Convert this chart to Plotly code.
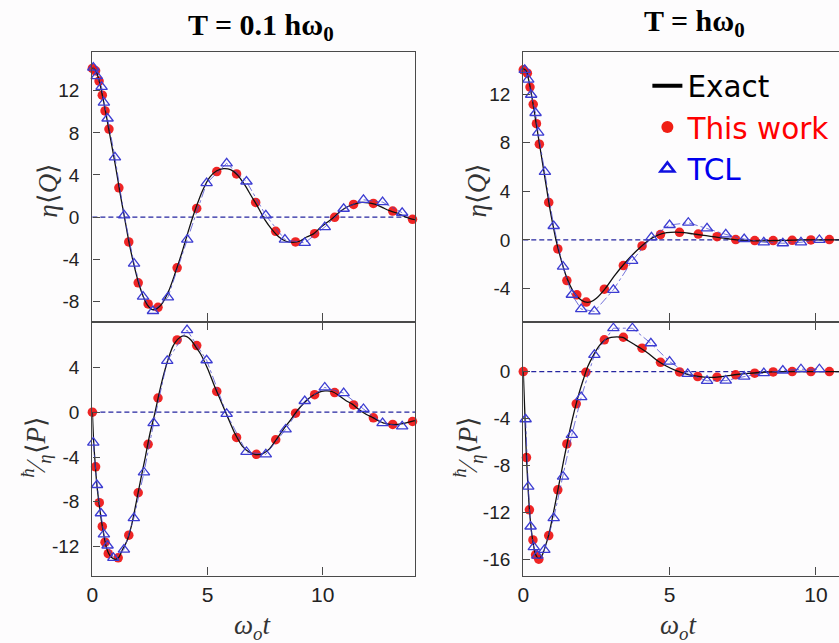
import plotly.graph_objects as go

# ---------------- data ----------------
# Top-left: T = 0.1 hw0, eta<Q>
TL_exact_x = [0, 0.15, 0.3, 0.45, 0.6, 0.75, 1.0, 1.2, 1.4, 1.6, 1.8, 2.0, 2.2, 2.4, 2.6, 2.8, 3.0,
              3.3, 3.6, 3.9, 4.2, 4.5, 4.8, 5.1, 5.4, 5.7, 6.0, 6.3, 6.6, 6.9, 7.2, 7.5, 7.8, 8.1,
              8.4, 8.7, 9.0, 9.3, 9.6, 9.9, 10.2, 10.5, 10.8, 11.1, 11.4, 11.7, 12.0, 12.3, 12.6,
              12.9, 13.2, 13.5, 13.8, 14.0]
TL_exact_y = [14.2, 13.9, 12.9, 11.4, 9.7, 7.9, 4.9, 2.3, -0.1, -2.5, -4.5, -6.2, -7.5, -8.4, -8.8,
              -8.7, -8.3, -7.1, -5.3, -3.3, -1.1, 0.9, 2.6, 3.8, 4.4, 4.6, 4.5, 4.0, 3.1, 2.0, 0.9,
              -0.3, -1.2, -1.9, -2.3, -2.4, -2.3, -1.9, -1.6, -1.0, -0.5, 0.0, 0.6, 1.0, 1.25, 1.4,
              1.35, 1.2, 0.9, 0.6, 0.4, 0.1, -0.15, -0.25]
TL_red_x = [0, 0.14, 0.29, 0.43, 0.55, 0.72, 1.15, 1.58, 1.99, 2.42, 2.85, 3.68, 4.53, 5.40, 6.26,
            7.09, 7.96, 8.82, 9.65, 10.52, 11.34, 12.20, 13.04, 13.90]
TL_red_y = [14.13, 13.9, 12.93, 11.58, 10.09, 8.36, 2.78, -2.37, -6.25, -8.26, -8.58, -4.83, 0.82,
            4.32, 4.10, 1.39, -1.36, -2.37, -1.58, -0.03, 1.20, 1.29, 0.57, -0.22]
TL_tcl_x = [0.04, 0.19, 0.40, 0.50, 0.66, 0.98, 1.38, 1.81, 2.20, 2.63, 3.28, 4.12, 4.96, 5.83,
            6.69, 7.53, 8.36, 9.22, 10.09, 10.91, 11.77, 12.60, 13.45]
TL_tcl_y = [14.2, 13.4, 12.37, 10.88, 9.37, 5.68, 0.16, -4.42, -7.57, -8.93, -7.63, -2.15, 3.22,
            5.11, 3.38, 0.16, -2.15, -2.46, -0.95, 0.79, 1.64, 1.42, 0.41]

# Bottom-left: T = 0.1 hw0, (hbar/eta)<P>
BL_exact_x = [0, 0.05, 0.1, 0.2, 0.3, 0.4, 0.5, 0.6, 0.7, 0.8, 1.0, 1.15, 1.3, 1.5, 1.7, 1.9, 2.1,
              2.3, 2.5, 2.7, 2.9, 3.1, 3.3, 3.5, 3.7, 3.9, 4.1, 4.3, 4.5, 4.7, 5.0, 5.3, 5.6, 5.9,
              6.2, 6.5, 6.8, 7.1, 7.4, 7.7, 8.0, 8.3, 8.6, 8.9, 9.2, 9.5, 9.8, 10.1, 10.4, 10.7,
              11.0, 11.3, 11.6, 11.9, 12.2, 12.5, 12.8, 13.1, 13.4, 13.7, 14.0]
BL_exact_y = [0, -2.4, -4.0, -6.6, -8.3, -9.8, -11.0, -12.0, -12.6, -12.9, -13.15, -12.95, -12.3,
              -11.5, -10.1, -8.1, -6.0, -4.0, -1.9, -0.2, 1.7, 3.4, 4.8, 5.9, 6.5, 6.8, 6.75, 6.4,
              5.8, 5.2, 3.9, 2.35, 0.9, -0.55, -1.95, -3.0, -3.55, -3.78, -3.7, -3.25, -2.4, -1.5,
              -0.7, 0.15, 0.85, 1.4, 1.75, 1.9, 1.85, 1.5, 1.05, 0.7, 0.2, -0.2, -0.5, -0.85,
              -1.05, -1.1, -1.05, -0.9, -0.75]
BL_red_x = [0, 0.14, 0.30, 0.43, 0.55, 0.69, 1.12, 1.58, 1.99, 2.42, 2.85, 3.68, 4.53, 5.40, 6.26,
            7.12, 7.96, 8.82, 9.65, 10.52, 11.34, 12.20, 13.04, 13.90]
BL_red_y = [0, -4.88, -8.08, -10.2, -11.6, -12.63, -13.0, -10.98, -7.19, -2.87, 1.27, 6.45, 5.95,
            1.86, -2.25, -3.76, -2.46, -0.09, 1.57, 1.75, 0.65, -0.50, -1.09, -0.83]
BL_tcl_x = [0.04, 0.20, 0.37, 0.50, 0.66, 0.91, 1.37, 1.80, 2.24, 2.66, 3.25, 4.11, 4.96, 5.83,
            6.69, 7.53, 8.39, 9.22, 10.09, 10.91, 11.77, 12.60, 13.45]
BL_tcl_y = [-2.72, -6.5, -9.02, -10.9, -11.9, -13.0, -12.27, -9.46, -5.38, -0.98, 4.58, 7.33, 4.64,
            -0.15, -3.55, -3.76, -1.54, 1.0, 2.21, 1.71, 0.29, -0.98, -1.27]

# Top-right: T = hw0, eta<Q>
TR_exact_x = [0, 0.1, 0.2, 0.3, 0.4, 0.5, 0.6, 0.7, 0.8, 0.9, 1.0, 1.1, 1.2, 1.35, 1.5, 1.7, 1.9,
              2.1, 2.3, 2.5, 2.8, 3.1, 3.4, 3.7, 4.0, 4.3, 4.6, 4.9, 5.2, 5.5, 5.8, 6.1, 6.4, 6.7,
              7.0, 7.3, 7.7, 8.1, 8.5, 9.0, 9.5, 10.0, 10.5, 10.8]
TR_exact_y = [14.1, 13.9, 13.0, 11.7, 10.2, 8.7, 7.2, 5.7, 4.2, 2.7, 1.4, 0.2, -0.8, -2.1, -3.2,
              -4.2, -4.8, -5.1, -5.1, -4.8, -4.0, -3.0, -2.1, -1.3, -0.6, 0.0, 0.4, 0.6, 0.65, 0.6,
              0.5, 0.4, 0.3, 0.2, 0.1, 0.0, -0.05, -0.08, -0.06, -0.03, 0.0, 0.0, 0.0, 0.0]
TR_red_x = [0, 0.14, 0.23, 0.34, 0.45, 0.55, 0.87, 1.18, 1.49, 1.83, 2.15, 2.77, 3.42, 4.06, 4.69,
            5.34, 5.98, 6.62, 7.26, 7.91, 8.54, 9.19, 9.83, 10.46]
TR_red_y = [14.0, 13.73, 12.58, 11.16, 9.57, 7.88, 3.09, -0.74, -3.34, -4.51, -5.11, -4.05, -2.11,
            -0.49, 0.44, 0.63, 0.49, 0.27, 0.03, -0.05, -0.05, -0.03, 0.0, 0.03]
TR_tcl_x = [0.05, 0.17, 0.27, 0.42, 0.51, 0.74, 1.04, 1.36, 1.66, 1.98, 2.43, 3.08, 3.72, 4.38,
            5.00, 5.64, 6.28, 6.92, 7.55, 8.22, 8.87, 9.49, 10.12]
TR_tcl_y = [14.0, 13.2, 11.95, 10.45, 8.83, 5.61, 1.15, -2.19, -4.51, -5.69, -5.88, -4.1, -1.72,
            0.22, 1.23, 1.42, 0.96, 0.46, 0.08, -0.19, -0.27, -0.19, 0.0]

# Bottom-right: T = hw0, (hbar/eta)<P>
BR_exact_x = [0, 0.03, 0.06, 0.1, 0.15, 0.2, 0.25, 0.3, 0.35, 0.4, 0.47, 0.55, 0.65, 0.75, 0.87,
              1.0, 1.15, 1.3, 1.45, 1.6, 1.75, 1.9, 2.05, 2.2, 2.4, 2.6, 2.8, 3.0, 3.2, 3.4, 3.6,
              3.8, 4.0, 4.3, 4.6, 4.9, 5.2, 5.5, 5.8, 6.1, 6.4, 6.7, 7.0, 7.3, 7.7, 8.1, 8.5, 9.0,
              10.0, 10.8]
BR_exact_y = [0, -2.0, -4.0, -6.8, -9.3, -11.4, -12.9, -14.0, -14.8, -15.4, -15.8, -15.9, -15.6,
              -14.9, -13.9, -12.4, -10.5, -8.6, -6.7, -4.9, -3.3, -1.9, -0.7, 0.4, 1.4, 2.2, 2.7,
              2.9, 2.95, 2.9, 2.6, 2.3, 2.0, 1.5, 0.9, 0.45, 0.1, -0.15, -0.35, -0.45, -0.5, -0.45,
              -0.35, -0.25, -0.15, -0.08, -0.03, 0.0, 0.0, 0.0]
BR_red_x = [0, 0.11, 0.21, 0.33, 0.42, 0.53, 0.87, 1.18, 1.49, 1.81, 2.14, 2.77, 3.42, 4.06, 4.69,
            5.34, 5.96, 6.62, 7.26, 7.91, 8.54, 9.19, 9.83, 10.46]
BR_red_y = [0, -7.32, -11.77, -14.33, -15.6, -15.97, -13.96, -10.07, -6.16, -2.75, -0.06, 2.7,
            2.92, 1.99, 0.79, -0.03, -0.43, -0.48, -0.28, -0.14, -0.03, 0.0, 0.0, 0.0]
BR_tcl_x = [0.08, 0.17, 0.25, 0.36, 0.48, 0.72, 1.04, 1.36, 1.66, 1.98, 2.43, 3.08, 3.73, 4.36,
            5.00, 5.62, 6.28, 6.92, 7.55, 8.22, 8.87, 9.49, 10.12]
BR_tcl_y = [-4.06, -9.79, -13.19, -14.95, -15.66, -15.18, -12.48, -8.94, -5.39, -2.18, 1.42, 3.69,
            3.69, 2.41, 0.85, -0.2, -0.79, -0.77, -0.43, -0.14, 0.09, 0.2, 0.2]

X_TICKS = [0, 5, 10]
X_TICKTEXT = ["0", "5", "10"]
TL_YTICKS = [-8, -4, 0, 4, 8, 12]
TL_YTEXT = ["-8", "-4", "0", "4", "8", "12"]
BL_YTICKS = [-12, -8, -4, 0, 4]
BL_YTEXT = ["-12", "-8", "-4", "0", "4"]
TR_YTICKS = [-4, 0, 4, 8, 12]
TR_YTEXT = ["-4", "0", "4", "8", "12"]
BR_YTICKS = [-16, -12, -8, -4, 0]
BR_YTEXT = ["-16", "-12", "-8", "-4", "0"]

TITLES = ["<b>T = 0.1 hω<sub>0</sub></b>", "<b>T = hω<sub>0</sub></b>"]
LEGEND_NAMES = ["Exact", "This work", "TCL"]

# ---------------- styling ----------------
W, H = 839, 643
RED = "rgba(238,20,20,0.93)"
BLUE = "#3c3cd2"
BLUE_LINE = "rgba(70,70,205,0.75)"
AX = "#4a4a4a"

def fx(p):
    return p / W

def fy(p):
    return 1 - p / H

fig = go.Figure()

panels = [
    ("x", "y", TL_exact_x, TL_exact_y, TL_red_x, TL_red_y, TL_tcl_x, TL_tcl_y),
    ("x2", "y2", BL_exact_x, BL_exact_y, BL_red_x, BL_red_y, BL_tcl_x, BL_tcl_y),
    ("x3", "y3", TR_exact_x, TR_exact_y, TR_red_x, TR_red_y, TR_tcl_x, TR_tcl_y),
    ("x4", "y4", BR_exact_x, BR_exact_y, BR_red_x, BR_red_y, BR_tcl_x, BR_tcl_y),
]

for xa, ya, ex, ey, rx, ry, tx, ty in panels:
    fig.add_trace(go.Scatter(x=rx, y=ry, mode="markers", xaxis=xa, yaxis=ya, showlegend=False,
                             cliponaxis=False,
                             marker=dict(size=9.5, color=RED, line=dict(width=0))))
    fig.add_trace(go.Scatter(x=ex, y=ey, mode="lines", xaxis=xa, yaxis=ya, showlegend=False,
                             line=dict(color="#111111", width=1.3, shape="spline", smoothing=0.8)))
    fig.add_trace(go.Scatter(x=tx, y=ty, mode="lines+markers", xaxis=xa, yaxis=ya,
                             showlegend=False, cliponaxis=False,
                             line=dict(color=BLUE_LINE, width=1, dash="dashdot"),
                             marker=dict(symbol="triangle-up-open", size=10, color=BLUE,
                                         line=dict(width=1.3, color=BLUE))))
    # zero reference line
    fig.add_shape(type="line", xref=f"{xa} domain", yref=ya, x0=0, x1=1, y0=0, y1=0,
                  line=dict(color="#2525a0", width=1.3, dash="5px,3px"), layer="below")

# legend-only traces
fig.add_trace(go.Scatter(x=[None], y=[None], mode="lines", xaxis="x3", yaxis="y3",
                         name=LEGEND_NAMES[0], line=dict(color="black", width=4)))
fig.add_trace(go.Scatter(x=[None], y=[None], mode="markers", xaxis="x3", yaxis="y3",
                         name=f"<span style='color:#ff0000'>{LEGEND_NAMES[1]}</span>",
                         marker=dict(size=12, color="#f01e14")))
fig.add_trace(go.Scatter(x=[None], y=[None], mode="markers", xaxis="x3", yaxis="y3",
                         name=f"<span style='color:#0000ee'>{LEGEND_NAMES[2]}</span>",
                         marker=dict(symbol="triangle-up-open", size=12, color="#1010e0",
                                     line=dict(width=2.5, color="#1010e0"))))

tickfont = dict(family="Liberation Sans, Arial, sans-serif", size=19, color="#222")

xl = [fx(87), fx(412)]
xr = [fx(521), 1.0]
ytop = [fy(321.5), fy(52)]
ybot = [fy(575.5), fy(321.5)]

def xaxis(domain, rng, anchor, labels, mirror):
    return dict(domain=domain, range=rng, anchor=anchor, tickvals=X_TICKS, ticktext=X_TICKTEXT,
                showticklabels=labels, ticks="inside", ticklen=8, tickwidth=1.2, tickcolor=AX,
                showline=True, linecolor=AX, linewidth=1.3, mirror=mirror, showgrid=False,
                zeroline=False, tickfont=dict(tickfont, size=21), ticklabelstandoff=0)

def yaxis(domain, rng, anchor, vals, text, mirror):
    return dict(domain=domain, range=rng, anchor=anchor, tickvals=vals, ticktext=text,
                ticks="inside", ticklen=7, tickwidth=1.2, tickcolor=AX, showline=True,
                linecolor=AX, linewidth=1.3, mirror=mirror, showgrid=False, zeroline=False,
                tickfont=tickfont, ticklabelstandoff=8)

fig.update_layout(
    width=W, height=H,
    margin=dict(l=0, r=0, t=0, b=0),
    paper_bgcolor="#fdfcfd", plot_bgcolor="#fdfcfd",
    showlegend=True,
    legend=dict(x=fx(646), y=fy(60), xanchor="left", yanchor="top",
                bgcolor="rgba(0,0,0,0)", borderwidth=0,
                font=dict(family="DejaVu Sans, sans-serif", size=29.5, color="black"),
                itemwidth=30, tracegroupgap=0),
    xaxis=xaxis(xl, [0, 14.01], "y", False, True),
    yaxis=yaxis(ytop, [-9.93, 15.69], "x", TL_YTICKS, TL_YTEXT, True),
    xaxis2=xaxis(xl, [0, 14.01], "y2", True, "ticks"),
    yaxis2=yaxis(ybot, [-14.58, 8.1], "x2", BL_YTICKS, BL_YTEXT, True),
    xaxis3=xaxis(xr, [0, 10.79], "y3", False, True),
    yaxis3=yaxis(ytop, [-6.71, 15.47], "x3", TR_YTICKS, TR_YTEXT, False),
    xaxis4=xaxis(xr, [0, 10.79], "y4", True, "ticks"),
    yaxis4=yaxis(ybot, [-17.36, 4.26], "x4", BR_YTICKS, BR_YTEXT, False),
)

serif = "Liberation Serif, Times New Roman, serif"
C = dict(xref="paper", yref="paper", xanchor="center", yanchor="middle", showarrow=False)
ann = []
# panel titles
ann.append(dict(C, text=TITLES[0], x=fx(257), y=fy(27),
                font=dict(family=serif, size=30, color="black")))
ann.append(dict(C, text=TITLES[1], x=fx(693), y=fy(23),
                font=dict(family=serif, size=30, color="black")))
# y-axis titles
for xp in (42, 474):
    ann.append(dict(C, text="<i>η</i>⟨<i>Q</i>⟩", x=fx(xp), y=fy(190), textangle=-90,
                    font=dict(family=serif, size=27, color="#333")))
for xp in (30, 465):
    ann.append(dict(C, text="<sup><i>ħ</i></sup>⁄<sub><i>η</i></sub>⟨<i>P</i>⟩", x=fx(xp),
                    y=fy(447), textangle=-90,
                    font=dict(family=serif, size=27, color="#333")))
# x-axis titles
for xp in (249, 678):
    ann.append(dict(C, text="<i>ω<sub>o</sub>t</i>", x=fx(xp), y=fy(627),
                    font=dict(family=serif, size=27, color="#333")))
fig.update_layout(annotations=ann)

fig.write_html("out.html", config={"displayModeBar": False},
               post_script="document.body.style.margin='0';"
               "document.body.style.overflow='hidden';window.dispatchEvent(new Event('resize'));")
